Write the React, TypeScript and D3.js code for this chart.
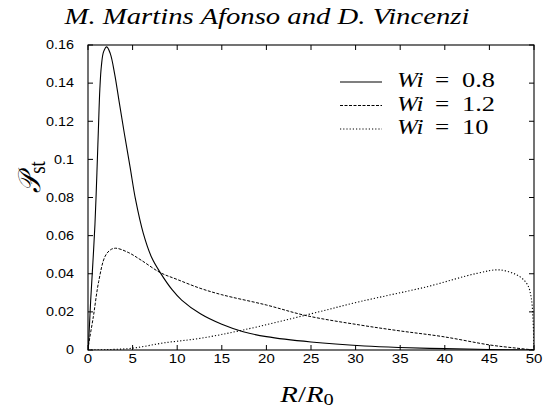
import React from "react";
import * as d3 from "d3";

const W = 543, H = 412;
const M = { left: 88, right: 534, top: 45, bottom: 350 };

const xTicks = [0, 5, 10, 15, 20, 25, 30, 35, 40, 45, 50];
const yTicks = [0, 0.02, 0.04, 0.06, 0.08, 0.1, 0.12, 0.14, 0.16];

const seriesLabels = ["0.8", "1.2", "10"];

const wi08X = [0, 0.08, 0.3, 0.55, 0.78, 1.0, 1.16, 1.33, 1.5, 1.75, 2.1, 2.5, 3.0, 3.5, 4.07, 4.71, 5.34, 6.2, 7.14, 8.1, 9.45, 10.5, 12.6, 15, 17.4, 20, 25, 31, 35, 40, 45, 50];
const wi08Y = [0, 0.005, 0.026, 0.046, 0.066, 0.093, 0.115, 0.137, 0.149, 0.1565, 0.159, 0.1555, 0.1445, 0.13, 0.1137, 0.0962, 0.0787, 0.0612, 0.0485, 0.0406, 0.0315, 0.0262, 0.019, 0.0135, 0.0096, 0.007, 0.0042, 0.0021, 0.0013, 0.0007, 0.0003, 0];

const wi12X = [0, 0.1, 0.6, 1.2, 1.9, 2.5, 3.1, 4.5, 6, 8.1, 10, 12.56, 15, 20, 24.5, 30.5, 35, 39.8, 45.1, 48, 50];
const wi12Y = [0, 0.0037, 0.0175, 0.036, 0.049, 0.0525, 0.0534, 0.0512, 0.047, 0.0406, 0.037, 0.0324, 0.029, 0.0236, 0.018, 0.0131, 0.01, 0.007, 0.0026, 0.001, 0];

const wi10X = [0, 2, 4.9, 8.6, 12.56, 17.4, 24.5, 30.5, 38, 43.6, 46.2, 48.4, 49.3, 49.7, 49.9, 50];
const wi10Y = [0, 0.0002, 0.0009, 0.0038, 0.0061, 0.0105, 0.0184, 0.0254, 0.0332, 0.0402, 0.042, 0.0385, 0.034, 0.027, 0.015, 0];

const SX = 1.2;

function SText(props: { x: number; y: number; anchor?: string; children: React.ReactNode; [k: string]: any }) {
  const { x, y, anchor, children, ...rest } = props;
  return (
    <g transform={`translate(${x},${y}) scale(${SX},1)`}>
      <text x={0} y={0} textAnchor={anchor || "start"} {...rest}>{children}</text>
    </g>
  );
}

export default function App() {
  const x = d3.scaleLinear().domain([0, 50]).range([M.left, M.right]);
  const y = d3.scaleLinear().domain([0, 0.16]).range([M.bottom, M.top]);
  const line = d3
    .line<[number, number]>()
    .x((d) => x(d[0]))
    .y((d) => y(d[1]))
    .curve(d3.curveCatmullRom.alpha(0.5));
  const zip = (a: number[], b: number[]) => a.map((v, i) => [v, b[i]] as [number, number]);
  const series = [
    { d: zip(wi08X, wi08Y), dash: undefined as string | undefined, w: 1.1 },
    { d: zip(wi12X, wi12Y), dash: "3,1.5", w: 1 },
    { d: zip(wi10X, wi10Y), dash: "1.2,2", w: 1.1 },
  ];
  const tick = 5;
  const sans = "'Liberation Sans', Arial, sans-serif";
  const serif = "'Liberation Serif', 'DejaVu Serif', serif";
  return (
    <svg width={W} height={H} style={{ position: "absolute", left: 0, top: 0, background: "#fff" }}>
      <rect x={0} y={0} width={W} height={H} fill="#fff" />
      <text x={267} y={24} textAnchor="middle" fontFamily={serif} fontStyle="italic" fontSize={24}
        textLength={405} lengthAdjust="spacingAndGlyphs">M. Martins Afonso and D. Vincenzi</text>
      <clipPath id="plotclip">
        <rect x={M.left} y={M.top - 2} width={M.right - M.left} height={M.bottom - M.top + 2} />
      </clipPath>
      {xTicks.map((t) => (
        <g key={"x" + t}>
          <line x1={x(t)} x2={x(t)} y1={M.bottom} y2={M.bottom - tick} stroke="#000" />
          <line x1={x(t)} x2={x(t)} y1={M.top} y2={M.top + tick} stroke="#000" />
          <SText x={x(t)} y={363} anchor="middle" fontFamily={sans} fontSize={12.5}>{t}</SText>
        </g>
      ))}
      {yTicks.map((t) => (
        <g key={"y" + t}>
          <line x1={M.left} x2={M.left + tick} y1={y(t)} y2={y(t)} stroke="#000" />
          <line x1={M.right} x2={M.right - tick} y1={y(t)} y2={y(t)} stroke="#000" />
          <SText x={74} y={y(t) + 4.3} anchor="end" fontFamily={sans} fontSize={12}>{String(t)}</SText>
        </g>
      ))}
      <g clipPath="url(#plotclip)">
        {series.map((s, i) => (
          <path key={i} d={line(s.d) || ""} fill="none" stroke="#000" strokeWidth={s.w} strokeDasharray={s.dash} />
        ))}
      </g>
      <rect x={M.left} y={M.top} width={M.right - M.left} height={M.bottom - M.top} fill="none" stroke="#000" strokeWidth={1.1} />
      {series.map((s, i) => (
        <g key={"lg" + i}>
          <line x1={340} x2={382} y1={82 + i * 23.5} y2={82 + i * 23.5} stroke="#000" strokeWidth={s.w} strokeDasharray={s.dash} />
          <SText x={397} y={87 + i * 23.5} fontFamily={serif} fontSize={21} fontStyle="italic">Wi</SText>
          <SText x={435} y={87 + i * 23.5} fontFamily={serif} fontSize={21}>=</SText>
          <SText x={462} y={87 + i * 23.5} fontFamily={serif} fontSize={22}>{seriesLabels[i]}</SText>
        </g>
      ))}
      <text transform="translate(40,177) rotate(-90) scale(1,1.2)" textAnchor="middle" fontFamily={serif} fontSize={26}>
        <tspan fontStyle="italic">𝒫</tspan>
        <tspan fontSize={19} dy={4}>st</tspan>
      </text>
      <SText x={307} y={402} anchor="middle" fontFamily={serif} fontSize={24}>
        <tspan fontStyle="italic">R</tspan>
        <tspan>/</tspan>
        <tspan fontStyle="italic">R</tspan>
        <tspan fontSize={17} dy={3}>0</tspan>
      </SText>
    </svg>
  );
}
